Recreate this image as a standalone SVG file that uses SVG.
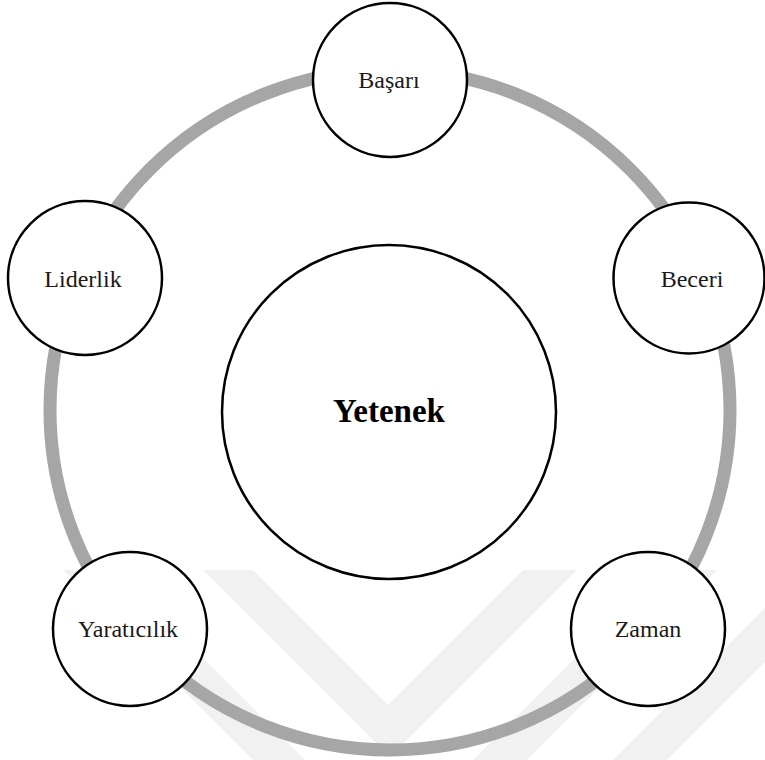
<svg xmlns="http://www.w3.org/2000/svg" width="765" height="760" viewBox="0 0 765 760">
  <style>
    .mark { fill: #f1f1f1; stroke: none; }
    .ring { fill: none; stroke: #a6a6a6; stroke-width: 13; }
    .node { fill: #ffffff; stroke: #000000; stroke-width: 2.5; }
    .label { font-family: "Liberation Serif", "Times New Roman", serif; font-size: 24px; fill: #1a1a1a; text-anchor: middle; }
    .core { font-family: "Liberation Serif", "Times New Roman", serif; font-size: 33px; font-weight: bold; fill: #000000; text-anchor: middle; }
  </style>

  <rect width="765" height="760" fill="#ffffff"/>

  <!-- faint background emblem: nested chevrons -->
  <g id="emblem">
    <polygon class="mark" points="203,570 253,570 388,705 523,570 577,570 390,757"/>
    <polygon class="mark" points="63,570 115,570 305,760 253,760"/>
    <polygon class="mark" points="663,570 717,570 527,760 473,760"/>
    <polygon class="mark" points="803,570 857,570 667,760 613,760"/>
  </g>

  <!-- connectors: ring joining the outer nodes -->
  <g id="connectors">
    <circle class="ring" cx="390" cy="410" r="340"/>
  </g>

  <g id="node-yetenek">
    <circle class="node" cx="389" cy="412" r="167"/>
    <text class="core" x="389" y="422">Yetenek</text>
  </g>

  <g id="node-basari">
    <circle class="node" cx="390" cy="80" r="77"/>
    <text class="label" x="389" y="88">Başarı</text>
  </g>

  <g id="node-liderlik">
    <circle class="node" cx="85" cy="278" r="77"/>
    <text class="label" x="83" y="287">Liderlik</text>
  </g>

  <g id="node-beceri">
    <circle class="node" cx="689" cy="278" r="75.5"/>
    <text class="label" x="692" y="287">Beceri</text>
  </g>

  <g id="node-yaraticilik">
    <circle class="node" cx="130" cy="629" r="77"/>
    <text class="label" x="128" y="637">Yaratıcılık</text>
  </g>

  <g id="node-zaman">
    <circle class="node" cx="648" cy="629" r="77"/>
    <text class="label" x="648" y="637">Zaman</text>
  </g>
</svg>
